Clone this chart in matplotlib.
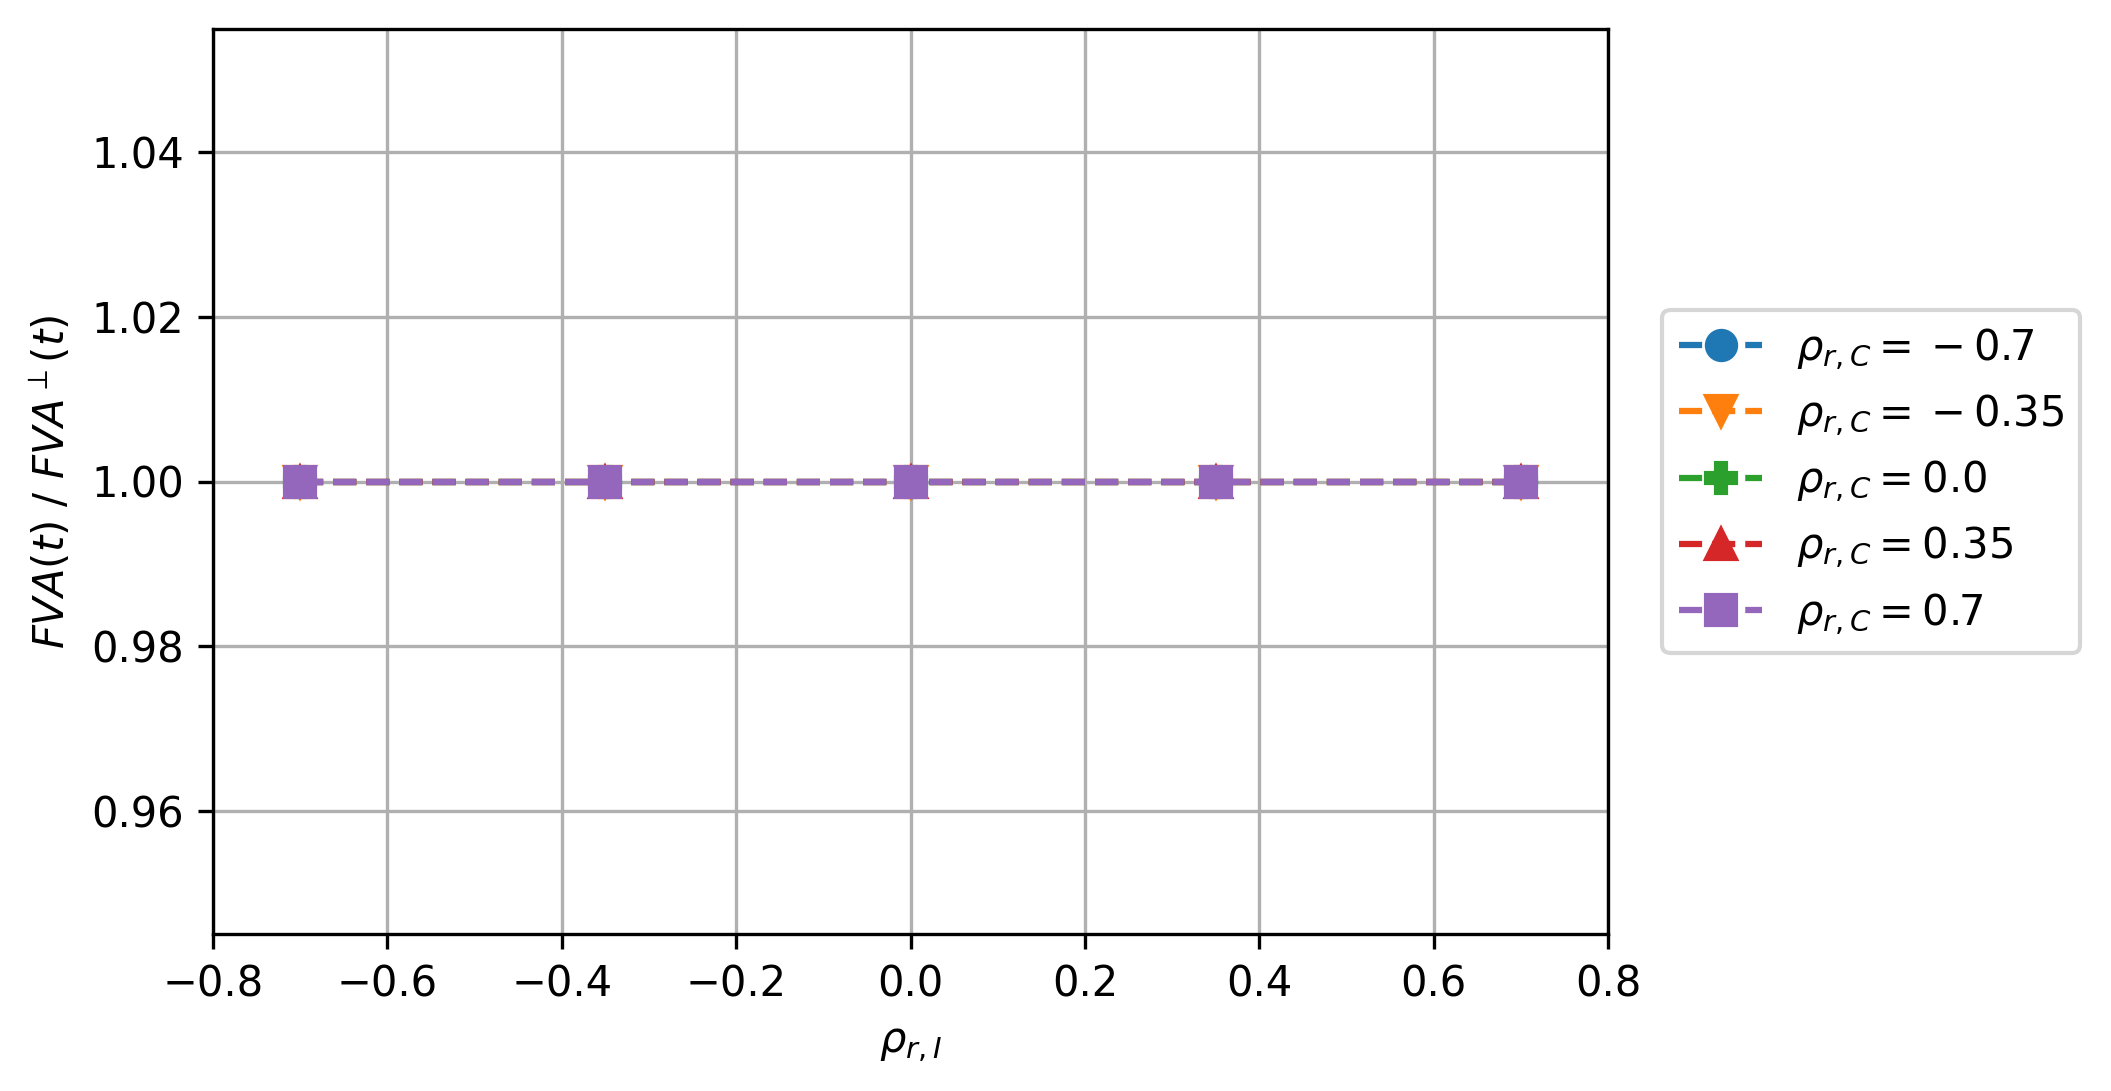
import numpy as np
import matplotlib
matplotlib.use("Agg")
import matplotlib.pyplot as plt

# correlation grid and FVA ratio (all equal to 1)
rho_ri = [-0.7, -0.35, 0.0, 0.35, 0.7]
rho_rc = [-0.7, -0.35, 0.0, 0.35, 0.7]
ratio = {
    -0.7: [1.0, 1.0, 1.0, 1.0, 1.0],
    -0.35: [1.0, 1.0, 1.0, 1.0, 1.0],
    0.0: [1.0, 1.0, 1.0, 1.0, 1.0],
    0.35: [1.0, 1.0, 1.0, 1.0, 1.0],
    0.7: [1.0, 1.0, 1.0, 1.0, 1.0],
}
markers = ["o", "v", "P", "^", "s"]


def lbl(v):
    # negative values are shown with a spaced (binary) minus, as in the original
    if v < 0:
        return rf"$\rho_{{r,C}} = {{}} - {abs(v)}$"
    return rf"$\rho_{{r,C}} = {v}$"


fig = plt.figure(figsize=(2111 / 300, 1091 / 300), dpi=300)
ax = fig.add_axes([213 / 2111, 1 - 934 / 1091, (1608 - 213) / 2111, (934 - 29) / 1091])
for rc, m in zip(rho_rc, markers):
    ax.plot(rho_ri, ratio[rc], linestyle="--", marker=m, markersize=7, label=lbl(rc))
ax.set_xlim(-0.8, 0.8)
ax.set_xlabel(r"$\rho_{r,I}$")
ax.set_ylabel(r"$FVA(t)$ / $FVA^\perp(t)$")
ax.grid(True)
ax.legend(loc="center left", bbox_to_anchor=(1.024, 0.5))
fig.savefig("out.png", dpi=300)
